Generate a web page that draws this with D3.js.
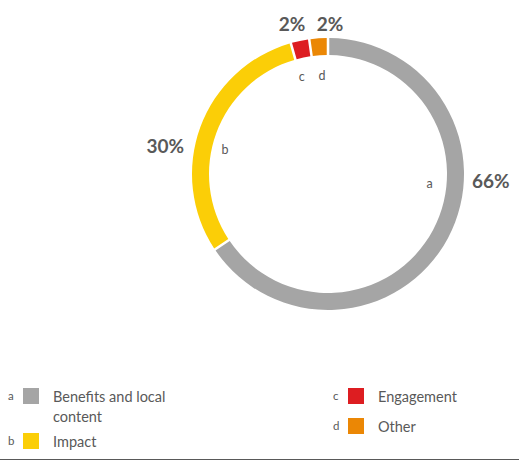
<!DOCTYPE html>
<html>
<head>
<meta charset="utf-8">
<script src="https://cdn.jsdelivr.net/npm/d3@7"></script>
<style>
  body { margin: 0; background: #fff; }
  svg text { font-family: Lato, "Open Sans", sans-serif; fill: #595959; }
</style>
</head>
<body>
<div id="chart"></div>
<script>
// data
var keys = ["a", "b", "c", "d"];
var categories = ["Benefits and local content", "Impact", "Engagement", "Other"];
var values = [66, 30, 2, 2];
var colors = ["#a5a5a5", "#fbce07", "#dd1d21", "#eb8705"];

var width = 519, height = 461;
var cx = 328, cy = 174;
var outerR = 136, innerR = 119;

var svg = d3.select("#chart").append("svg")
    .attr("width", width)
    .attr("height", height);

var rows = keys.map(function (k, i) {
    return { key: k, name: categories[i], value: values[i], color: colors[i] };
});

var pie = d3.pie()
    .sort(null)
    .value(function (d) { return d.value; })
    .padAngle(0.014);

var arc = d3.arc()
    .innerRadius(innerR)
    .outerRadius(outerR);

var g = svg.append("g")
    .attr("transform", "translate(" + cx + "," + cy + ")");

var arcs = pie(rows);

g.selectAll("path.slice")
    .data(arcs)
    .enter().append("path")
    .attr("class", "slice")
    .attr("d", arc)
    .style("fill", function (d) { return d.data.color; });

// label placement: [angle in degrees clockwise from top, radius]
// (the original doesn't sit labels on the centroids)
var letterPlace = { a: [95.5, 102], b: [283.5, 106], c: [-15, 101], d: [-3.5, 99] };
var pctPlace = { a: [92.5, 163], b: [279.5, 165], c: [-13.5, 154], d: [0.8, 150] };

function polar(p) {
    var a = p[0] * Math.PI / 180;
    return "translate(" + (p[1] * Math.sin(a)) + "," + (-p[1] * Math.cos(a)) + ")";
}

g.selectAll("text.letter")
    .data(arcs)
    .enter().append("text")
    .attr("class", "letter")
    .attr("text-anchor", "middle")
    .attr("dy", "0.35em")
    .attr("transform", function (d) { return polar(letterPlace[d.data.key]); })
    .style("font-size", "12.5px")
    .text(function (d) { return d.data.key; });

g.selectAll("text.pct")
    .data(arcs)
    .enter().append("text")
    .attr("class", "pct")
    .attr("text-anchor", "middle")
    .attr("dy", "0.35em")
    .attr("transform", function (d) { return polar(pctPlace[d.data.key]); })
    .style("font-size", "19px")
    .style("font-weight", "bold")
    .text(function (d) { return d.data.value + "%"; });

// legend
var legendPos = [[8, 388], [8, 433], [333, 388], [333, 418]];

var legend = svg.selectAll("g.legend")
    .data(rows)
    .enter().append("g")
    .attr("class", "legend")
    .attr("transform", function (d, i) {
        return "translate(" + legendPos[i][0] + "," + legendPos[i][1] + ")";
    });

legend.append("text")
    .attr("x", 0)
    .attr("y", 12)
    .style("font-size", "11.5px")
    .text(function (d) { return d.key; });

legend.append("rect")
    .attr("x", 15)
    .attr("y", 0)
    .attr("width", 16)
    .attr("height", 16)
    .style("fill", function (d) { return d.color; });

legend.append("text")
    .attr("x", 45)
    .attr("y", 14)
    .style("font-size", "14.5px")
    .each(function (d) {
        var t = d3.select(this);
        var lines = d.name === "Benefits and local content" ? ["Benefits and local", "content"] : [d.name];
        lines.forEach(function (l, j) {
            t.append("tspan").attr("x", 45).attr("dy", j ? 20 : 0).text(l);
        });
    });

svg.append("line")
    .attr("x1", 0).attr("x2", width)
    .attr("y1", 459.5).attr("y2", 459.5)
    .style("stroke", "#595959")
    .style("stroke-width", 1.2);
</script>
</body>
</html>
